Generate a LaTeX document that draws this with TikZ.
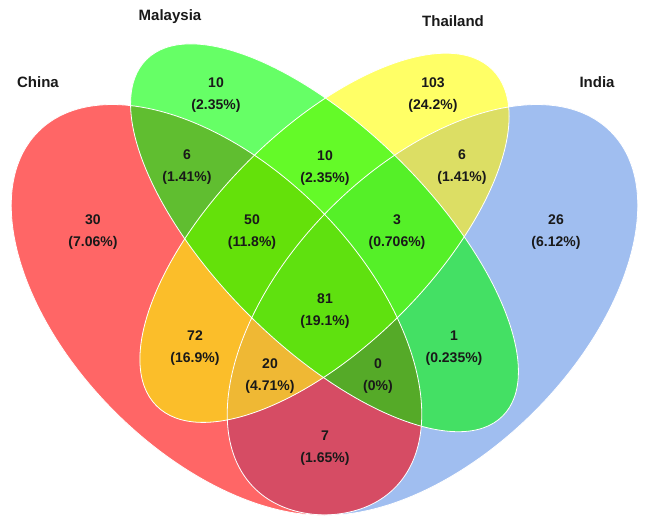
\documentclass[tikz,border=0pt]{standalone}
\usepackage{fontspec}
\setmainfont{Liberation Sans}
\definecolor{cC}{RGB}{255,102,102}
\definecolor{cM}{RGB}{102,255,102}
\definecolor{cT}{RGB}{255,255,102}
\definecolor{cI}{RGB}{160,190,240}
\definecolor{cCM}{RGB}{96,190,48}
\definecolor{cMT}{RGB}{100,250,40}
\definecolor{cTI}{RGB}{220,222,100}
\definecolor{cCT}{RGB}{251,190,42}
\definecolor{cCI}{RGB}{214,76,100}
\definecolor{cMI}{RGB}{68,224,100}
\definecolor{cCMT}{RGB}{100,225,10}
\definecolor{cMTI}{RGB}{85,240,40}
\definecolor{cCTI}{RGB}{239,184,52}
\definecolor{cCMI}{RGB}{85,170,40}
\definecolor{cCMTI}{RGB}{95,225,15}
\newcommand\pathC{[rotate around={135:(216.5,214.2)}] (216.5,214.2) ellipse [x radius=252, y radius=144]}
\newcommand\pathI{[rotate around={45:(432.5,214.2)}] (432.5,214.2) ellipse [x radius=252, y radius=144]}
\newcommand\pathM{[rotate around={135:(324.5,286.2)}] (324.5,286.2) ellipse [x radius=252, y radius=108]}
\newcommand\pathT{[rotate around={45:(324.5,286.2)}] (324.5,286.2) ellipse [x radius=237.6, y radius=108]}
\newcommand\regfill[1]{\fill[#1] (0,0) rectangle (645,524);}
\tikzset{
  setlabel/.style={font=\fontsize{15}{18}\selectfont\bfseries, text=black!90, inner sep=0pt},
  numlabel/.style={font=\fontsize{14}{22}\selectfont\bfseries, text=black!90, align=center, inner sep=0pt},
  outline/.style={draw=white, line width=0.8pt}
}
\begin{document}
\begin{tikzpicture}[x=1pt,y=1pt]
\useasboundingbox (0,0) rectangle (645,524);
% single sets
\fill[cC] \pathC;
\fill[cI] \pathI;
\fill[cM] \pathM;
\fill[cT] \pathT;
% pairs
\begin{scope}\clip\pathC;\clip\pathM;\regfill{cCM}\end{scope}
\begin{scope}\clip\pathC;\clip\pathT;\regfill{cCT}\end{scope}
\begin{scope}\clip\pathC;\clip\pathI;\regfill{cCI}\end{scope}
\begin{scope}\clip\pathM;\clip\pathT;\regfill{cMT}\end{scope}
\begin{scope}\clip\pathM;\clip\pathI;\regfill{cMI}\end{scope}
\begin{scope}\clip\pathT;\clip\pathI;\regfill{cTI}\end{scope}
% triples
\begin{scope}\clip\pathC;\clip\pathM;\clip\pathT;\regfill{cCMT}\end{scope}
\begin{scope}\clip\pathC;\clip\pathM;\clip\pathI;\regfill{cCMI}\end{scope}
\begin{scope}\clip\pathC;\clip\pathT;\clip\pathI;\regfill{cCTI}\end{scope}
\begin{scope}\clip\pathM;\clip\pathT;\clip\pathI;\regfill{cMTI}\end{scope}
% all four
\begin{scope}\clip\pathC;\clip\pathM;\clip\pathT;\clip\pathI;\regfill{cCMTI}\end{scope}
% outlines
\draw[outline] \pathC;
\draw[outline] \pathI;
\draw[outline] \pathM;
\draw[outline] \pathT;
% set labels
\node[setlabel] (lC) at (38,442) {China};
\node[setlabel] (lM) at (170,507) {Malaysia};
\node[setlabel] (lT) at (453,503) {Thailand};
\node[setlabel] (lI) at (597,442) {India};
% region labels
\node[numlabel] (rM) at (216,429) {10\\(2.35\%)};
\node[numlabel] (rC) at (93,292) {30\\(7.06\%)};
\node[numlabel] (rCM) at (187,357) {6\\(1.41\%)};
\node[numlabel] (rCMT) at (252,292) {50\\(11.8\%)};
\node[numlabel] (rMT) at (325,356) {10\\(2.35\%)};
\node[numlabel] (rT) at (433,429) {103\\(24.2\%)};
\node[numlabel] (rTI) at (462,357) {6\\(1.41\%)};
\node[numlabel] (rMTI) at (397,292) {3\\(0.706\%)};
\node[numlabel] (rI) at (556,292) {26\\(6.12\%)};
\node[numlabel] (rCMTI) at (325,213) {81\\(19.1\%)};
\node[numlabel] (rCT) at (195,176) {72\\(16.9\%)};
\node[numlabel] (rCTI) at (270,148) {20\\(4.71\%)};
\node[numlabel] (rCI) at (325,76) {7\\(1.65\%)};
\node[numlabel] (rCMI) at (378,148) {0\\(0\%)};
\node[numlabel] (rMI) at (454,176) {1\\(0.235\%)};
\end{tikzpicture}
\end{document}
